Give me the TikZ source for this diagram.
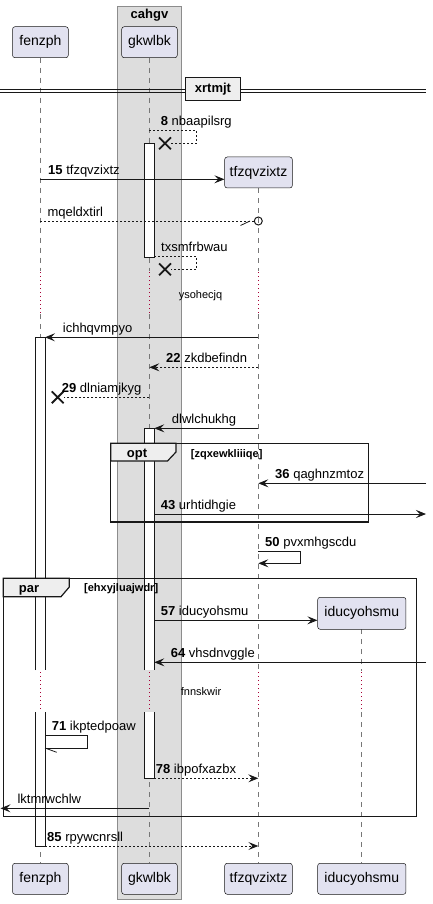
\documentclass[tikz,border=0pt]{standalone}
\usepackage{fontspec}
\setmainfont{Liberation Sans}
\usetikzlibrary{arrows.meta,shapes.misc,positioning,calc}
\definecolor{partfill}{HTML}{E2E2F0}
\definecolor{linecol}{HTML}{181818}
\definecolor{lifecol}{HTML}{777777}
\definecolor{grpfill}{HTML}{DDDDDD}
\definecolor{grpline}{HTML}{8C8C8C}
\definecolor{tabfill}{HTML}{EEEEEE}
\definecolor{delaycol}{HTML}{A80036}

\begin{document}
\begin{tikzpicture}[
            x=1pt, y=-1pt,
            part/.style={draw=linecol, fill=partfill, rounded corners=2.5pt, line width=0.5pt,
                         inner sep=0pt, minimum height=31pt, font=\fontsize{14}{16}\selectfont},
            lifeline/.style={draw=lifecol, line width=0.6pt, dash pattern=on 5pt off 5pt},
            delayline/.style={draw=delaycol, line width=0.9pt, dash pattern=on 1pt off 3pt},
            barside/.style={draw=linecol, line width=0.8pt},
            msg/.style={draw=linecol, line width=0.8pt, -{Stealth[length=10pt,width=8pt,inset=4pt]}},
            reply/.style={msg, dash pattern=on 2pt off 2pt},
            dashline/.style={draw=linecol, line width=0.8pt, dash pattern=on 2pt off 2pt},
            plainline/.style={draw=linecol, line width=0.8pt},
            txt/.style={anchor=base west, inner sep=0pt, font=\fontsize{13}{15}\selectfont},
            small/.style={anchor=base, inner sep=0pt, font=\fontsize{11}{13}\selectfont},
            xmark/.style={cross out, draw=linecol, line width=1.8pt, minimum size=10pt, inner sep=0pt},
            frame/.style={draw=linecol, line width=1.5pt},
            tabbox/.style={draw=linecol, line width=1.2pt, fill=tabfill}
        ]
\useasboundingbox (0,0) rectangle (432,904);

% group box
            \node[draw=grpline, fill=grpfill, line width=0.8pt, minimum width=63.6pt, minimum height=893pt,
                  anchor=north, inner sep=0pt] (cahgv) at (149.5,6) {};
            \node[anchor=base, inner sep=0pt, font=\fontsize{13}{15}\selectfont\bfseries] (cahgvtitle) at (149.5,19) {cahgv};

% lifelines
            \draw[lifeline] (40.3,57.7) -- (40.3,271);
            \draw[delayline] (40.3,272) -- (40.3,313);
            \draw[lifeline] (40.3,314) -- (40.3,671);
            \draw[delayline] (40.3,672) -- (40.3,711);
            \draw[lifeline] (40.3,712) -- (40.3,863.3);
            \draw[lifeline] (149.3,57.7) -- (149.3,271);
            \draw[delayline] (149.3,272) -- (149.3,313);
            \draw[lifeline] (149.3,314) -- (149.3,671);
            \draw[delayline] (149.3,672) -- (149.3,711);
            \draw[lifeline] (149.3,712) -- (149.3,863.3);
            \draw[lifeline] (258.3,188.3) -- (258.3,271);
            \draw[delayline] (258.3,272) -- (258.3,313);
            \draw[lifeline] (258.3,314) -- (258.3,671);
            \draw[delayline] (258.3,672) -- (258.3,711);
            \draw[lifeline] (258.3,712) -- (258.3,863.3);
            \draw[lifeline] (361.3,629.3) -- (361.3,671);
            \draw[delayline] (361.3,672) -- (361.3,711);
            \draw[lifeline] (361.3,712) -- (361.3,863.3);

% divider
            \draw[plainline] (0,89.3) -- (426,89.3);
            \draw[plainline] (0,92) -- (426,92);
            \node[draw=linecol, fill=tabfill, line width=1.5pt, minimum width=55pt, minimum height=23pt, inner sep=0pt,
                  font=\fontsize{13}{15}\selectfont\bfseries] (xrtmjt) at (213,89.2) {xrtmjt};

% activation bars
            \draw[barside, fill=white] (144.3,143.3) rectangle (154.3,257.3);
            \fill[white] (35.7,337.3) rectangle (45,670);
            \draw[barside] (35.7,670) -- (35.7,337.3) -- (45,337.3) -- (45,670);
            \fill[white] (35.7,712.3) rectangle (45,846);
            \draw[barside] (35.7,712.3) -- (35.7,846) -- (45,846) -- (45,712.3);
            \fill[white] (144.3,428.3) rectangle (154.3,670);
            \draw[barside] (144.3,670) -- (144.3,428.3) -- (154.3,428.3) -- (154.3,670);
            \fill[white] (144.3,712.3) rectangle (154.3,778.3);
            \draw[barside] (144.3,712.3) -- (144.3,778.3) -- (154.3,778.3) -- (154.3,712.3);

% frames
            \draw[frame] (110.7,443.3) rectangle (368.7,522);
            \draw[tabbox] (110.7,443.3) -- (176,443.3) -- (176,452) -- (167.5,461) -- (110.7,461) -- cycle;
            \node[anchor=base, inner sep=0pt, font=\fontsize{13}{15}\selectfont\bfseries] (opt) at (137,457) {opt};
            \node[anchor=base west, inner sep=0pt, font=\fontsize{11}{13}\selectfont\bfseries] (optguard) at (190.7,457) {[zqxewkliiiqe]};
            \draw[frame] (3.3,578.3) rectangle (416.7,816.7);
            \draw[tabbox] (3.3,578.3) -- (69.3,578.3) -- (69.3,587) -- (61,596.7) -- (3.3,596.7) -- cycle;
            \node[anchor=base, inner sep=0pt, font=\fontsize{13}{15}\selectfont\bfseries] (par) at (29,592.3) {par};
            \node[anchor=base west, inner sep=0pt, font=\fontsize{11}{13}\selectfont\bfseries] (parguard) at (84,591.7) {[ehxyjluajwdr]};

% participants
            \node[part, minimum width=55.8pt] (fenzph) at (40.4,42.2) {fenzph};
            \node[part, minimum width=55.6pt] (gkwlbk) at (149.5,42.2) {gkwlbk};
            \node[part, minimum width=67.6pt] (tfzqvzixtz) at (258.5,172.5) {tfzqvzixtz};
            \node[part, minimum width=88.3pt, minimum height=32pt] (iducyohsmu) at (361.8,613.3) {iducyohsmu};
            \node[part, minimum width=55.8pt] (fenzphB) at (40.4,878.8) {fenzph};
            \node[part, minimum width=55.6pt] (gkwlbkB) at (149.5,878.8) {gkwlbk};
            \node[part, minimum width=67.6pt] (tfzqvzixtzB) at (258.5,878.8) {tfzqvzixtz};
            \node[part, minimum width=88.3pt] (iducyohsmuB) at (361.8,878.8) {iducyohsmu};

% message end points
            \coordinate (s8) at (149.3,130.3);
            \coordinate (c8) at (196.7,130.3);
            \node[xmark] (x8) at (165,143.3) {};
            \coordinate (s15) at (40.3,179.3);
            \coordinate (s16) at (40.3,221);
            \node[draw=linecol, circle, line width=1pt, minimum size=8pt, inner sep=0pt] (o16) at (258.3,221) {};
            \coordinate (h16) at (250,221);
            \coordinate (b16) at (240.5,225.5);
            \coordinate (s17) at (154.3,256.3);
            \coordinate (c17) at (196.7,256.3);
            \node[xmark] (x17) at (165,269.3) {};
            \coordinate (s18) at (258.3,337.3);
            \coordinate (e18) at (45,337.3);
            \coordinate (s22) at (258.3,367.3);
            \coordinate (e22) at (149.3,367.3);
            \coordinate (s29) at (149.3,397.3);
            \node[xmark] (x29) at (57.7,397.3) {};
            \coordinate (s30) at (258.3,428.3);
            \coordinate (e30) at (154.3,428.3);
            \coordinate (s36) at (426,483.3);
            \coordinate (e36) at (258.3,483.3);
            \coordinate (s43) at (154.3,514);
            \coordinate (e43) at (426,514);
            \coordinate (s50) at (258.3,551.7);
            \coordinate (c50) at (300,551.7);
            \coordinate (e50) at (258.3,563.3);
            \coordinate (s57) at (154.3,620.3);
            \coordinate (s64) at (426,662.3);
            \coordinate (e64) at (154.3,662.3);
            \coordinate (s71) at (45,735.3);
            \coordinate (c71) at (87.3,735.3);
            \coordinate (e71) at (45,748);
            \coordinate (b71) at (56.7,752.3);
            \coordinate (s78) at (154.3,778.3);
            \coordinate (e78) at (258.3,778.3);
            \coordinate (s80) at (149.3,808.3);
            \coordinate (e80) at (0.5,808.3);
            \coordinate (s85) at (45,846);
            \coordinate (e85) at (258.3,846);

% messages
            \draw[dashline] (s8) -- (c8) |- (x8);
            \node[txt] (l8) at (160.7,125.5) {\textbf{8} nbaapilsrg};
            \draw[msg] (s15) -- (tfzqvzixtz.west |- s15);
            \node[txt] (l15) at (48,174.3) {\textbf{15} tfzqvzixtz};
            \draw[dashline] (s16) -- (o16);
            \draw[plainline] (b16) -- (h16);
            \node[txt] (l16) at (47.3,216) {mqeldxtirl};
            \draw[dashline] (s17) -- (c17) |- (x17);
            \node[txt] (l17) at (161,251.3) {txsmfrbwau};
            \node[small] (ysohecjq) at (200.5,298.3) {ysohecjq};
            \draw[msg] (s18) -- (e18);
            \node[txt] (l18) at (62.7,332.3) {ichhqvmpyo};
            \draw[reply] (s22) -- (e22);
            \node[txt] (l22) at (166,362.3) {\textbf{22} zkdbefindn};
            \draw[dashline] (s29) -- (x29);
            \node[txt] (l29) at (61.7,392.3) {\textbf{29} dlniamjkyg};
            \draw[msg] (s30) -- (e30);
            \node[txt] (l30) at (171.7,423.3) {dlwlchukhg};
            \draw[msg] (s36) -- (e36);
            \node[txt] (l36) at (275,478.3) {\textbf{36} qaghnzmtoz};
            \draw[msg] (s43) -- (e43);
            \node[txt] (l43) at (160.7,509) {\textbf{43} urhtidhgie};
            \draw[msg] (s50) -- (c50) |- (e50);
            \node[txt] (l50) at (265,546.7) {\textbf{50} pvxmhgscdu};
            \draw[msg] (s57) -- (iducyohsmu.west |- s57);
            \node[txt] (l57) at (160.7,615.3) {\textbf{57} iducyohsmu};
            \draw[msg] (s64) -- (e64);
            \node[txt] (l64) at (170.7,657.3) {\textbf{64} vhsdnvggle};
            \node[small] (fnnskwir) at (201,695.7) {fnnskwir};
            \draw[plainline] (s71) -- (c71) |- (e71);
            \draw[plainline] (e71) -- (b71);
            \node[txt] (l71) at (51.7,730.3) {\textbf{71} ikptedpoaw};
            \draw[reply] (s78) -- (e78);
            \node[txt] (l78) at (155.7,773.3) {\textbf{78} ibpofxazbx};
            \draw[msg] (s80) -- (e80);
            \node[txt] (l80) at (17.3,803.3) {lktmrwchlw};
            \draw[reply] (s85) -- (e85);
            \node[txt] (l85) at (47,841) {\textbf{85} rpywcnrsll};

        \end{tikzpicture}
\end{document}
